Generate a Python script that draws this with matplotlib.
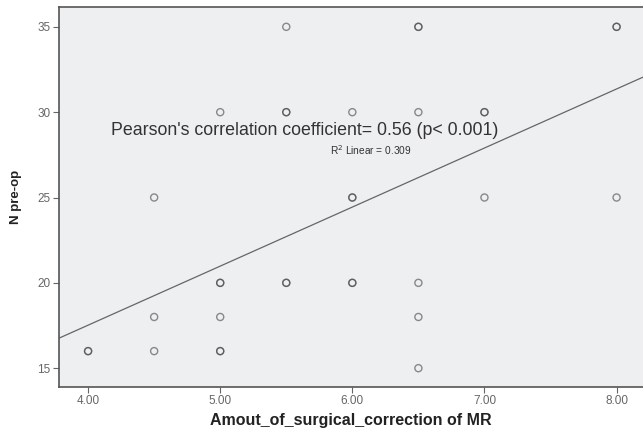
import numpy as np
import matplotlib.pyplot as plt

plt.rcParams['font.family'] = ['Liberation Sans', 'DejaVu Sans']

# duplicated pairs show up darker in the original (overlapping markers)
correction = [5.5, 6.5, 6.5, 8.0, 8.0,
              5.0, 5.5, 5.5, 6.0, 6.5, 7.0, 7.0,
              4.5, 6.0, 6.0, 7.0, 8.0,
              5.0, 5.0, 5.5, 5.5, 6.0, 6.0, 6.5,
              4.5, 5.0, 6.5,
              4.0, 4.0, 4.5, 5.0, 5.0,
              6.5]
n_preop = [35, 35, 35, 35, 35,
           30, 30, 30, 30, 30, 30, 30,
           25, 25, 25, 25, 25,
           20, 20, 20, 20, 20, 20, 20,
           18, 18, 18,
           16, 16, 16, 16, 16,
           15]

slope = 3.46
intercept = 3.68
x_ticks = [4.0, 5.0, 6.0, 7.0, 8.0]
y_ticks = [15, 20, 25, 30, 35]

fig = plt.figure(figsize=(6.43, 4.29), dpi=100)
ax = fig.add_axes([0.0918, 0.098, 0.9082, 0.886])
ax.set_facecolor('#eeeff1')

ax.scatter(correction, n_preop, s=26, facecolors='none', edgecolors='#444444',
           linewidths=1.0, alpha=0.6, zorder=3)

xlim = (3.78, 8.2)
xs = np.array(xlim)
ax.plot(xs, slope * xs + intercept, color='#666666', lw=0.9, zorder=2)

ax.set_xlim(*xlim)
ax.set_ylim(13.9, 36.17)
ax.set_xticks(x_ticks)
ax.set_xticklabels([f'{v:.2f}' for v in x_ticks])
ax.set_yticks(y_ticks)
ax.tick_params(colors='#666666', labelsize=8.5, length=4, width=0.8, pad=2)

for s in ['left', 'bottom', 'top']:
    ax.spines[s].set_color('#555555')
    ax.spines[s].set_linewidth(1.2)
ax.spines['right'].set_visible(False)

ax.text(5.636, 28.9, "Pearson's correlation coefficient= 0.56 (p< 0.001)",
        ha='center', va='center', fontsize=12.8, color='#333333')
ax.text(6.14, 27.8, 'R$^2$ Linear = 0.309', ha='center', va='center',
        fontsize=7.3, color='#333333')

ax.set_xlabel('Amout_of_surgical_correction of MR', fontsize=11.5, fontweight='bold',
              color='#222222', labelpad=4)
ax.set_ylabel('N pre-op', fontsize=9.5, fontweight='bold', color='#222222', labelpad=11)

fig.savefig('out.png', dpi=100)
